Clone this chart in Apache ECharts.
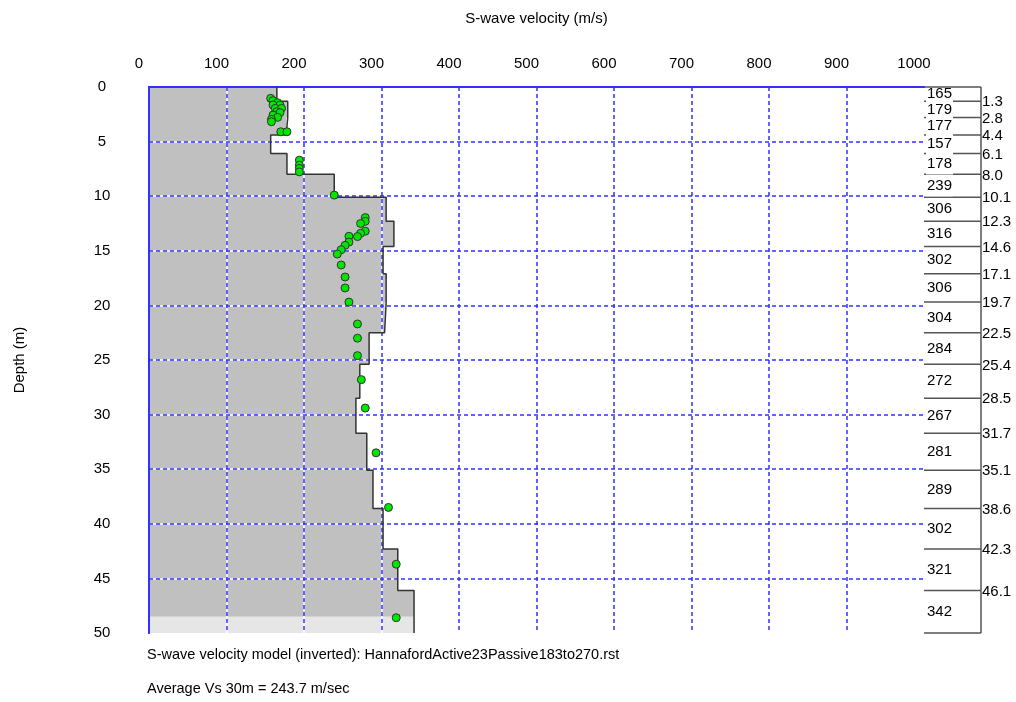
<!DOCTYPE html>
<html>
<head>
<meta charset="utf-8">
<script src="https://cdn.jsdelivr.net/npm/echarts@6/dist/echarts.min.js"></script>
<style>html,body{margin:0;padding:0;background:#fff}#c{width:1016px;height:702px}</style>
</head>
<body>
<div id="c"></div>
<script>
// ---- data ----
const layerBoundaries = [1.3, 2.8, 4.4, 6.1, 8.0, 10.1, 12.3, 14.6, 17.1, 19.7, 22.5, 25.4, 28.5, 31.7, 35.1, 38.6, 42.3, 46.1];
const layerVelocities = [165, 179, 177, 157, 178, 239, 306, 316, 302, 306, 304, 284, 272, 267, 281, 289, 302, 321, 342];
const maxDepth = 50;
const halfspaceTop = 48.5;
const pointVelocities = [157, 160, 166, 160, 169, 163, 171, 165, 169, 160, 166, 158, 158, 170, 178, 194, 194, 194, 194, 239,
  279, 279, 273, 279, 273, 269, 258, 258, 253, 248, 243, 248, 253, 253, 258, 269, 269, 269, 274, 279, 293, 309, 319, 319];
const pointDepths = [1.04, 1.25, 1.44, 1.65, 1.65, 1.96, 1.96, 2.26, 2.35, 2.57, 2.78, 2.97, 3.18, 4.1, 4.1, 6.7, 7.16, 7.46, 7.77, 9.9,
  11.96, 12.3, 12.5, 13.2, 13.4, 13.7, 13.67, 14.2, 14.5, 14.9, 15.3, 16.3, 17.4, 18.4, 19.7, 21.7, 23.0, 24.6, 26.8, 29.4, 33.5, 38.5, 43.7, 48.6];
const velocityTicks = { min: 0, max: 1000, interval: 100 };
const depthTicks = { min: 0, max: 50, interval: 5 };
const xTitle = 'S-wave velocity (m/s)';
const yTitle = 'Depth (m)';
const caption1 = 'S-wave velocity model (inverted): HannafordActive23Passive183to270.rst';
const caption2 = 'Average Vs 30m = 243.7 m/sec';

// ---- helpers ----
const FONT = 'Liberation Sans, Arial, sans-serif';
const BLUE = '#3030ff';
function layerTop(i) { return i === 0 ? 0 : layerBoundaries[i - 1]; }
function layerBottom(i) { return i < layerBoundaries.length ? layerBoundaries[i] : maxDepth; }

const stepPoints = [];
layerVelocities.forEach((v, i) => { stepPoints.push([v, layerTop(i)]); stepPoints.push([v, layerBottom(i)]); });
const scatterData = pointVelocities.map((v, i) => [v, pointDepths[i]]);

function fillItem(params, api) {
  const pts = [api.coord([0, 0])];
  stepPoints.forEach(p => pts.push(api.coord(p)));
  pts.push(api.coord([0, maxDepth]));
  const lastV = layerVelocities[layerVelocities.length - 1];
  const h0 = api.coord([0, halfspaceTop]), h1 = api.coord([lastV, maxDepth]);
  return { type: 'group', children: [
    { type: 'polygon', shape: { points: pts }, style: { fill: '#c0c0c0' } },
    { type: 'rect', shape: { x: h0[0], y: h0[1], width: h1[0] - h0[0], height: h1[1] - h0[1] }, style: { fill: '#e6e6e6' } }
  ] };
}

function tableItem(params, api) {
  const i = params.dataIndex;
  const t = layerTop(i), b = layerBottom(i);
  const a = api.coord([0, t]), c = api.coord([1, b]);
  const stroke = { stroke: '#555', lineWidth: 1.5 };
  const ch = [];
  ch.push({ type: 'line', shape: { x1: c[0], y1: a[1], x2: c[0], y2: c[1] }, style: stroke, z2: 20 });
  if (i === 0) ch.push({ type: 'line', shape: { x1: a[0], y1: a[1], x2: c[0], y2: a[1] }, style: stroke, z2: 20 });
  const last = i === layerVelocities.length - 1;
  ch.push({ type: 'line', shape: { x1: a[0], y1: c[1], x2: c[0], y2: c[1] }, style: stroke, z2: last ? 20 : 0 });
  ch.push({ type: 'text', x: a[0] + 2, y: (a[1] + c[1]) / 2,
    style: { text: String(layerVelocities[i]), fill: '#000', font: '15px ' + FONT, align: 'left', verticalAlign: 'middle', backgroundColor: '#fff', padding: [3, 1, 3, 1] }, z2: 10 });
  if (!last) ch.push({ type: 'text', x: c[0] + 1, y: c[1] + 1,
    style: { text: layerBoundaries[i].toFixed(1), fill: '#000', font: '15px ' + FONT, align: 'left', verticalAlign: 'middle' }, z2: 10 });
  return { type: 'group', children: ch };
}

const chart = echarts.init(document.getElementById('c'), null, { renderer: 'canvas' });
chart.setOption({
  animation: false,
  backgroundColor: '#fff',
  textStyle: { fontFamily: FONT },
  grid: [
    { left: 149, top: 87, width: 775, height: 546 },
    { left: 924, top: 87, width: 57, height: 546 }
  ],
  xAxis: [
    { gridIndex: 0, type: 'value', position: 'top', min: velocityTicks.min, max: velocityTicks.max, interval: velocityTicks.interval, z: 3,
      name: xTitle, nameLocation: 'middle', nameGap: 61, nameTextStyle: { fontSize: 15, color: '#000', fontFamily: FONT },
      axisLine: { show: true, lineStyle: { color: BLUE, width: 2 } }, axisTick: { show: false },
      axisLabel: { fontSize: 15, color: '#000', margin: 16, padding: [0, 20, 0, 0], fontFamily: FONT, formatter: v => String(v) },
      splitLine: { show: true, showMinLine: false, showMaxLine: false, lineStyle: { color: BLUE, width: 1.5, type: [4, 3] } } },
    { gridIndex: 0, type: 'value', position: 'bottom', min: velocityTicks.min, max: velocityTicks.max, interval: velocityTicks.interval, z: 2,
      axisLine: { show: true, lineStyle: { color: BLUE, width: 2 } }, axisTick: { show: false }, axisLabel: { show: false },
      splitLine: { show: true, showMinLine: false, showMaxLine: false, lineStyle: { color: '#ffffff', width: 1.5 } } },
    { gridIndex: 1, type: 'value', min: 0, max: 1, show: false }
  ],
  yAxis: [
    { gridIndex: 0, type: 'value', position: 'left', inverse: true, min: depthTicks.min, max: depthTicks.max, interval: depthTicks.interval, z: 3,
      name: yTitle, nameLocation: 'middle', nameGap: 122, nameRotate: 90, nameTextStyle: { fontSize: 15, color: '#000', fontFamily: FONT },
      axisLine: { show: true, lineStyle: { color: BLUE, width: 2 } }, axisTick: { show: false },
      axisLabel: { fontSize: 15, color: '#000', margin: 47, align: 'center', fontFamily: FONT },
      splitLine: { show: true, showMinLine: false, showMaxLine: false, lineStyle: { color: BLUE, width: 1.5, type: [4, 3] } } },
    { gridIndex: 0, type: 'value', position: 'right', inverse: true, min: depthTicks.min, max: depthTicks.max, interval: depthTicks.interval, z: 2,
      axisLine: { show: true, lineStyle: { color: BLUE, width: 2 } }, axisTick: { show: false }, axisLabel: { show: false },
      splitLine: { show: true, showMinLine: false, showMaxLine: false, lineStyle: { color: '#ffffff', width: 1.5 } } },
    { gridIndex: 1, type: 'value', inverse: true, min: depthTicks.min, max: depthTicks.max, show: false }
  ],
  series: [
    { type: 'custom', xAxisIndex: 0, yAxisIndex: 0, z: 1, silent: true, clip: true,
      renderItem: fillItem, data: [[0, 0]] },
    { type: 'line', xAxisIndex: 0, yAxisIndex: 0, z: 4, symbol: 'none', silent: true,
      lineStyle: { color: '#333', width: 1.5 }, data: stepPoints },
    { type: 'scatter', xAxisIndex: 0, yAxisIndex: 0, z: 5, symbol: 'circle', symbolSize: 8, silent: true,
      itemStyle: { color: '#00e600', borderColor: '#333', borderWidth: 1, opacity: 1 }, data: scatterData },
    { type: 'custom', xAxisIndex: 2, yAxisIndex: 2, z: 5, silent: true, clip: false,
      renderItem: tableItem, data: layerVelocities.map((v, i) => [0.5, layerTop(i)]) }
  ],
  graphic: [
    { type: 'text', left: 147, top: 647, style: { text: caption1, fill: '#000', font: '14.5px ' + FONT } },
    { type: 'text', left: 147, top: 681, style: { text: caption2, fill: '#000', font: '14.5px ' + FONT } }
  ]
});
</script>
</body>
</html>
